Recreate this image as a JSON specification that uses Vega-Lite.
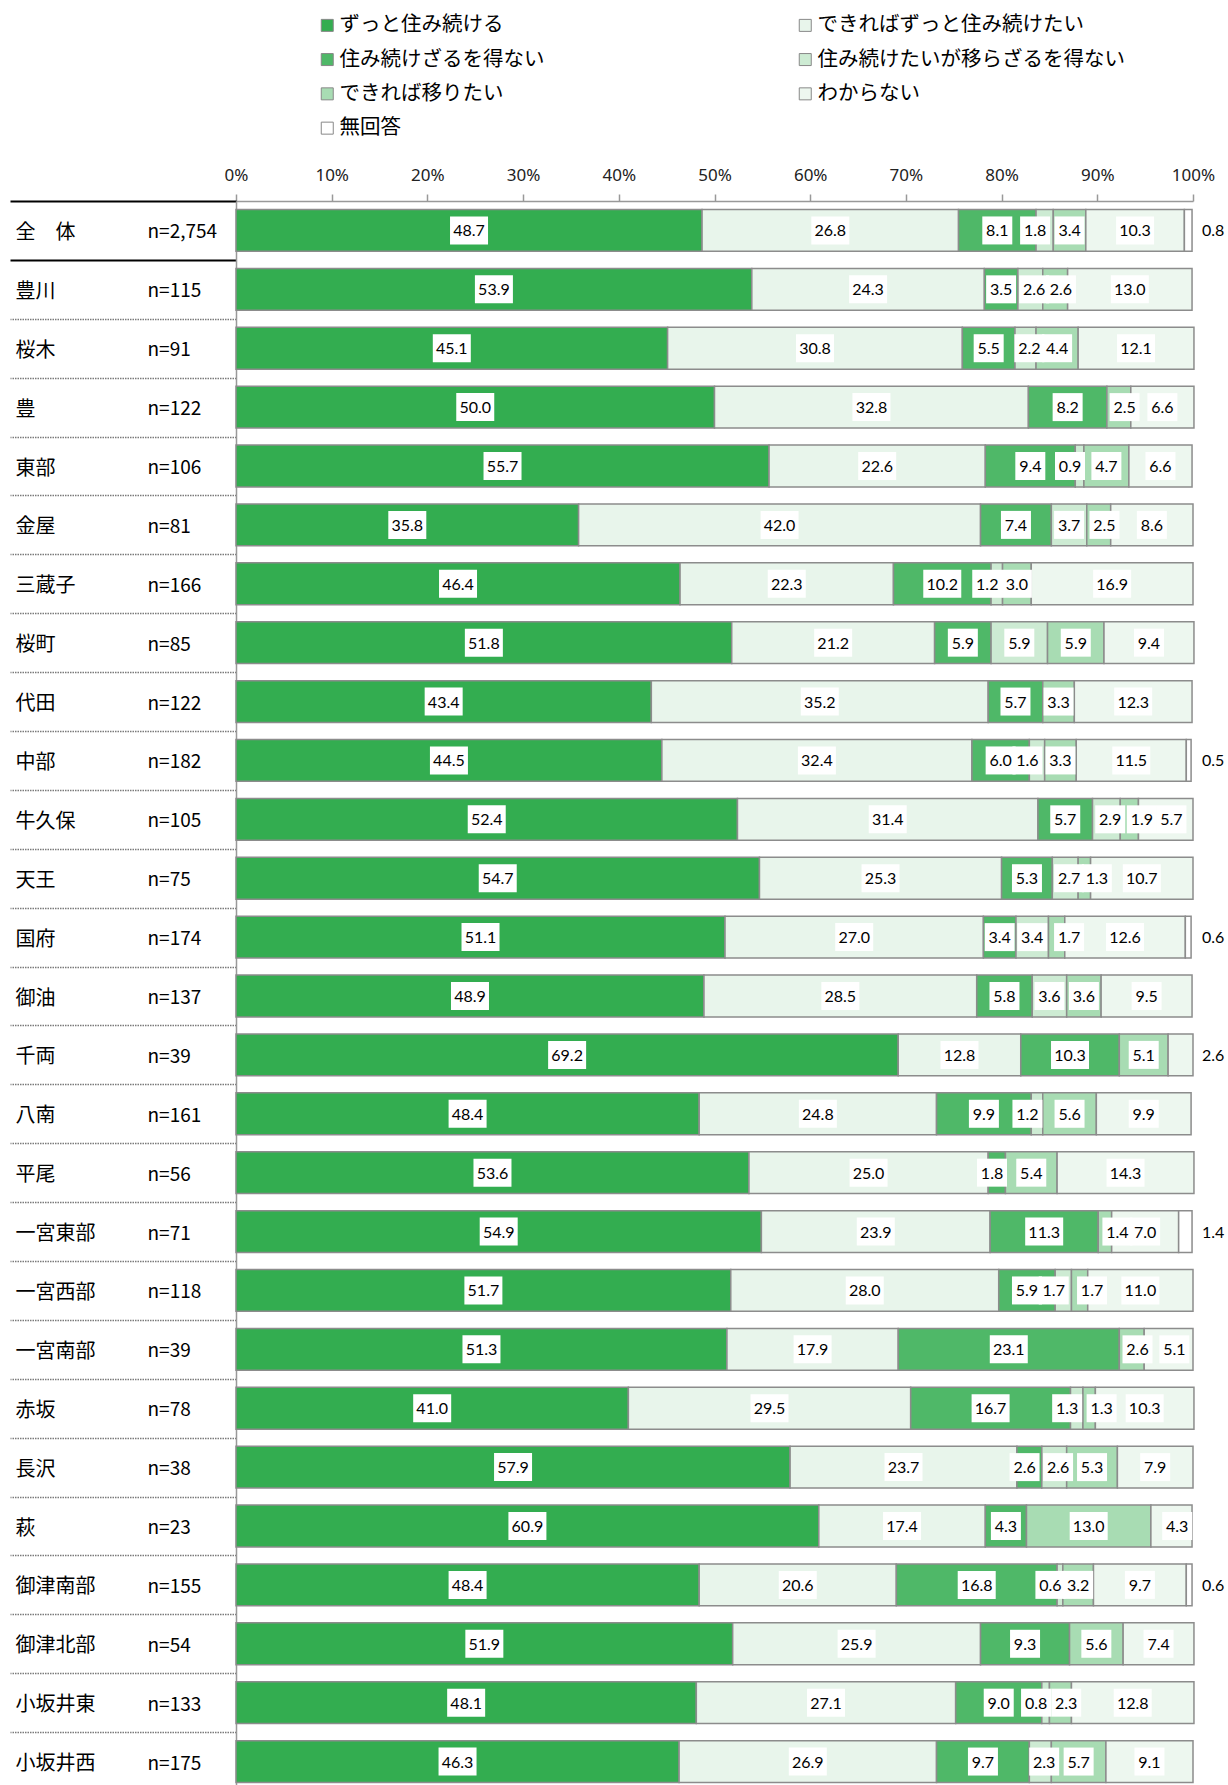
{
  "$schema": "https://vega.github.io/schema/vega-lite/v6.json",
  "width": 957,
  "height": 1590,
  "autosize": {"type": "none"},
  "padding": {"left": 236, "top": 201, "right": 35, "bottom": -6},
  "background": "white",
  "config": {"view": {"stroke": null}},
  "data": {"values": [
    {"area":"全　体","n":"n=2,754","cat":"ずっと住み続ける","value":48.7},
    {"area":"全　体","n":"n=2,754","cat":"できればずっと住み続けたい","value":26.8},
    {"area":"全　体","n":"n=2,754","cat":"住み続けざるを得ない","value":8.1},
    {"area":"全　体","n":"n=2,754","cat":"住み続けたいが移らざるを得ない","value":1.8},
    {"area":"全　体","n":"n=2,754","cat":"できれば移りたい","value":3.4},
    {"area":"全　体","n":"n=2,754","cat":"わからない","value":10.3},
    {"area":"全　体","n":"n=2,754","cat":"無回答","value":0.8},
    {"area":"豊川","n":"n=115","cat":"ずっと住み続ける","value":53.9},
    {"area":"豊川","n":"n=115","cat":"できればずっと住み続けたい","value":24.3},
    {"area":"豊川","n":"n=115","cat":"住み続けざるを得ない","value":3.5},
    {"area":"豊川","n":"n=115","cat":"住み続けたいが移らざるを得ない","value":2.6},
    {"area":"豊川","n":"n=115","cat":"できれば移りたい","value":2.6},
    {"area":"豊川","n":"n=115","cat":"わからない","value":13.0},
    {"area":"桜木","n":"n=91","cat":"ずっと住み続ける","value":45.1},
    {"area":"桜木","n":"n=91","cat":"できればずっと住み続けたい","value":30.8},
    {"area":"桜木","n":"n=91","cat":"住み続けざるを得ない","value":5.5},
    {"area":"桜木","n":"n=91","cat":"住み続けたいが移らざるを得ない","value":2.2},
    {"area":"桜木","n":"n=91","cat":"できれば移りたい","value":4.4},
    {"area":"桜木","n":"n=91","cat":"わからない","value":12.1},
    {"area":"豊","n":"n=122","cat":"ずっと住み続ける","value":50.0},
    {"area":"豊","n":"n=122","cat":"できればずっと住み続けたい","value":32.8},
    {"area":"豊","n":"n=122","cat":"住み続けざるを得ない","value":8.2},
    {"area":"豊","n":"n=122","cat":"できれば移りたい","value":2.5},
    {"area":"豊","n":"n=122","cat":"わからない","value":6.6},
    {"area":"東部","n":"n=106","cat":"ずっと住み続ける","value":55.7},
    {"area":"東部","n":"n=106","cat":"できればずっと住み続けたい","value":22.6},
    {"area":"東部","n":"n=106","cat":"住み続けざるを得ない","value":9.4},
    {"area":"東部","n":"n=106","cat":"住み続けたいが移らざるを得ない","value":0.9},
    {"area":"東部","n":"n=106","cat":"できれば移りたい","value":4.7},
    {"area":"東部","n":"n=106","cat":"わからない","value":6.6},
    {"area":"金屋","n":"n=81","cat":"ずっと住み続ける","value":35.8},
    {"area":"金屋","n":"n=81","cat":"できればずっと住み続けたい","value":42.0},
    {"area":"金屋","n":"n=81","cat":"住み続けざるを得ない","value":7.4},
    {"area":"金屋","n":"n=81","cat":"住み続けたいが移らざるを得ない","value":3.7},
    {"area":"金屋","n":"n=81","cat":"できれば移りたい","value":2.5},
    {"area":"金屋","n":"n=81","cat":"わからない","value":8.6},
    {"area":"三蔵子","n":"n=166","cat":"ずっと住み続ける","value":46.4},
    {"area":"三蔵子","n":"n=166","cat":"できればずっと住み続けたい","value":22.3},
    {"area":"三蔵子","n":"n=166","cat":"住み続けざるを得ない","value":10.2},
    {"area":"三蔵子","n":"n=166","cat":"住み続けたいが移らざるを得ない","value":1.2},
    {"area":"三蔵子","n":"n=166","cat":"できれば移りたい","value":3.0},
    {"area":"三蔵子","n":"n=166","cat":"わからない","value":16.9},
    {"area":"桜町","n":"n=85","cat":"ずっと住み続ける","value":51.8},
    {"area":"桜町","n":"n=85","cat":"できればずっと住み続けたい","value":21.2},
    {"area":"桜町","n":"n=85","cat":"住み続けざるを得ない","value":5.9},
    {"area":"桜町","n":"n=85","cat":"住み続けたいが移らざるを得ない","value":5.9},
    {"area":"桜町","n":"n=85","cat":"できれば移りたい","value":5.9},
    {"area":"桜町","n":"n=85","cat":"わからない","value":9.4},
    {"area":"代田","n":"n=122","cat":"ずっと住み続ける","value":43.4},
    {"area":"代田","n":"n=122","cat":"できればずっと住み続けたい","value":35.2},
    {"area":"代田","n":"n=122","cat":"住み続けざるを得ない","value":5.7},
    {"area":"代田","n":"n=122","cat":"できれば移りたい","value":3.3},
    {"area":"代田","n":"n=122","cat":"わからない","value":12.3},
    {"area":"中部","n":"n=182","cat":"ずっと住み続ける","value":44.5},
    {"area":"中部","n":"n=182","cat":"できればずっと住み続けたい","value":32.4},
    {"area":"中部","n":"n=182","cat":"住み続けざるを得ない","value":6.0},
    {"area":"中部","n":"n=182","cat":"住み続けたいが移らざるを得ない","value":1.6},
    {"area":"中部","n":"n=182","cat":"できれば移りたい","value":3.3},
    {"area":"中部","n":"n=182","cat":"わからない","value":11.5},
    {"area":"中部","n":"n=182","cat":"無回答","value":0.5},
    {"area":"牛久保","n":"n=105","cat":"ずっと住み続ける","value":52.4},
    {"area":"牛久保","n":"n=105","cat":"できればずっと住み続けたい","value":31.4},
    {"area":"牛久保","n":"n=105","cat":"住み続けざるを得ない","value":5.7},
    {"area":"牛久保","n":"n=105","cat":"住み続けたいが移らざるを得ない","value":2.9},
    {"area":"牛久保","n":"n=105","cat":"できれば移りたい","value":1.9},
    {"area":"牛久保","n":"n=105","cat":"わからない","value":5.7},
    {"area":"天王","n":"n=75","cat":"ずっと住み続ける","value":54.7},
    {"area":"天王","n":"n=75","cat":"できればずっと住み続けたい","value":25.3},
    {"area":"天王","n":"n=75","cat":"住み続けざるを得ない","value":5.3},
    {"area":"天王","n":"n=75","cat":"住み続けたいが移らざるを得ない","value":2.7},
    {"area":"天王","n":"n=75","cat":"できれば移りたい","value":1.3},
    {"area":"天王","n":"n=75","cat":"わからない","value":10.7},
    {"area":"国府","n":"n=174","cat":"ずっと住み続ける","value":51.1},
    {"area":"国府","n":"n=174","cat":"できればずっと住み続けたい","value":27.0},
    {"area":"国府","n":"n=174","cat":"住み続けざるを得ない","value":3.4},
    {"area":"国府","n":"n=174","cat":"住み続けたいが移らざるを得ない","value":3.4},
    {"area":"国府","n":"n=174","cat":"できれば移りたい","value":1.7},
    {"area":"国府","n":"n=174","cat":"わからない","value":12.6},
    {"area":"国府","n":"n=174","cat":"無回答","value":0.6},
    {"area":"御油","n":"n=137","cat":"ずっと住み続ける","value":48.9},
    {"area":"御油","n":"n=137","cat":"できればずっと住み続けたい","value":28.5},
    {"area":"御油","n":"n=137","cat":"住み続けざるを得ない","value":5.8},
    {"area":"御油","n":"n=137","cat":"住み続けたいが移らざるを得ない","value":3.6},
    {"area":"御油","n":"n=137","cat":"できれば移りたい","value":3.6},
    {"area":"御油","n":"n=137","cat":"わからない","value":9.5},
    {"area":"千両","n":"n=39","cat":"ずっと住み続ける","value":69.2},
    {"area":"千両","n":"n=39","cat":"できればずっと住み続けたい","value":12.8},
    {"area":"千両","n":"n=39","cat":"住み続けざるを得ない","value":10.3},
    {"area":"千両","n":"n=39","cat":"できれば移りたい","value":5.1},
    {"area":"千両","n":"n=39","cat":"わからない","value":2.6},
    {"area":"八南","n":"n=161","cat":"ずっと住み続ける","value":48.4},
    {"area":"八南","n":"n=161","cat":"できればずっと住み続けたい","value":24.8},
    {"area":"八南","n":"n=161","cat":"住み続けざるを得ない","value":9.9},
    {"area":"八南","n":"n=161","cat":"住み続けたいが移らざるを得ない","value":1.2},
    {"area":"八南","n":"n=161","cat":"できれば移りたい","value":5.6},
    {"area":"八南","n":"n=161","cat":"わからない","value":9.9},
    {"area":"平尾","n":"n=56","cat":"ずっと住み続ける","value":53.6},
    {"area":"平尾","n":"n=56","cat":"できればずっと住み続けたい","value":25.0},
    {"area":"平尾","n":"n=56","cat":"住み続けざるを得ない","value":1.8},
    {"area":"平尾","n":"n=56","cat":"できれば移りたい","value":5.4},
    {"area":"平尾","n":"n=56","cat":"わからない","value":14.3},
    {"area":"一宮東部","n":"n=71","cat":"ずっと住み続ける","value":54.9},
    {"area":"一宮東部","n":"n=71","cat":"できればずっと住み続けたい","value":23.9},
    {"area":"一宮東部","n":"n=71","cat":"住み続けざるを得ない","value":11.3},
    {"area":"一宮東部","n":"n=71","cat":"できれば移りたい","value":1.4},
    {"area":"一宮東部","n":"n=71","cat":"わからない","value":7.0},
    {"area":"一宮東部","n":"n=71","cat":"無回答","value":1.4},
    {"area":"一宮西部","n":"n=118","cat":"ずっと住み続ける","value":51.7},
    {"area":"一宮西部","n":"n=118","cat":"できればずっと住み続けたい","value":28.0},
    {"area":"一宮西部","n":"n=118","cat":"住み続けざるを得ない","value":5.9},
    {"area":"一宮西部","n":"n=118","cat":"住み続けたいが移らざるを得ない","value":1.7},
    {"area":"一宮西部","n":"n=118","cat":"できれば移りたい","value":1.7},
    {"area":"一宮西部","n":"n=118","cat":"わからない","value":11.0},
    {"area":"一宮南部","n":"n=39","cat":"ずっと住み続ける","value":51.3},
    {"area":"一宮南部","n":"n=39","cat":"できればずっと住み続けたい","value":17.9},
    {"area":"一宮南部","n":"n=39","cat":"住み続けざるを得ない","value":23.1},
    {"area":"一宮南部","n":"n=39","cat":"できれば移りたい","value":2.6},
    {"area":"一宮南部","n":"n=39","cat":"わからない","value":5.1},
    {"area":"赤坂","n":"n=78","cat":"ずっと住み続ける","value":41.0},
    {"area":"赤坂","n":"n=78","cat":"できればずっと住み続けたい","value":29.5},
    {"area":"赤坂","n":"n=78","cat":"住み続けざるを得ない","value":16.7},
    {"area":"赤坂","n":"n=78","cat":"住み続けたいが移らざるを得ない","value":1.3},
    {"area":"赤坂","n":"n=78","cat":"できれば移りたい","value":1.3},
    {"area":"赤坂","n":"n=78","cat":"わからない","value":10.3},
    {"area":"長沢","n":"n=38","cat":"ずっと住み続ける","value":57.9},
    {"area":"長沢","n":"n=38","cat":"できればずっと住み続けたい","value":23.7},
    {"area":"長沢","n":"n=38","cat":"住み続けざるを得ない","value":2.6},
    {"area":"長沢","n":"n=38","cat":"住み続けたいが移らざるを得ない","value":2.6},
    {"area":"長沢","n":"n=38","cat":"できれば移りたい","value":5.3},
    {"area":"長沢","n":"n=38","cat":"わからない","value":7.9},
    {"area":"萩","n":"n=23","cat":"ずっと住み続ける","value":60.9},
    {"area":"萩","n":"n=23","cat":"できればずっと住み続けたい","value":17.4},
    {"area":"萩","n":"n=23","cat":"住み続けざるを得ない","value":4.3},
    {"area":"萩","n":"n=23","cat":"できれば移りたい","value":13.0},
    {"area":"萩","n":"n=23","cat":"わからない","value":4.3},
    {"area":"御津南部","n":"n=155","cat":"ずっと住み続ける","value":48.4},
    {"area":"御津南部","n":"n=155","cat":"できればずっと住み続けたい","value":20.6},
    {"area":"御津南部","n":"n=155","cat":"住み続けざるを得ない","value":16.8},
    {"area":"御津南部","n":"n=155","cat":"住み続けたいが移らざるを得ない","value":0.6},
    {"area":"御津南部","n":"n=155","cat":"できれば移りたい","value":3.2},
    {"area":"御津南部","n":"n=155","cat":"わからない","value":9.7},
    {"area":"御津南部","n":"n=155","cat":"無回答","value":0.6},
    {"area":"御津北部","n":"n=54","cat":"ずっと住み続ける","value":51.9},
    {"area":"御津北部","n":"n=54","cat":"できればずっと住み続けたい","value":25.9},
    {"area":"御津北部","n":"n=54","cat":"住み続けざるを得ない","value":9.3},
    {"area":"御津北部","n":"n=54","cat":"できれば移りたい","value":5.6},
    {"area":"御津北部","n":"n=54","cat":"わからない","value":7.4},
    {"area":"小坂井東","n":"n=133","cat":"ずっと住み続ける","value":48.1},
    {"area":"小坂井東","n":"n=133","cat":"できればずっと住み続けたい","value":27.1},
    {"area":"小坂井東","n":"n=133","cat":"住み続けざるを得ない","value":9.0},
    {"area":"小坂井東","n":"n=133","cat":"住み続けたいが移らざるを得ない","value":0.8},
    {"area":"小坂井東","n":"n=133","cat":"できれば移りたい","value":2.3},
    {"area":"小坂井東","n":"n=133","cat":"わからない","value":12.8},
    {"area":"小坂井西","n":"n=175","cat":"ずっと住み続ける","value":46.3},
    {"area":"小坂井西","n":"n=175","cat":"できればずっと住み続けたい","value":26.9},
    {"area":"小坂井西","n":"n=175","cat":"住み続けざるを得ない","value":9.7},
    {"area":"小坂井西","n":"n=175","cat":"住み続けたいが移らざるを得ない","value":2.3},
    {"area":"小坂井西","n":"n=175","cat":"できれば移りたい","value":5.7},
    {"area":"小坂井西","n":"n=175","cat":"わからない","value":9.1}
  ]},
  "transform": [
    {"calculate": "datum.area + '|' + datum.n", "as": "key"},
    {"stack": "value", "groupby": ["key"], "as": ["v0", "v1"]},
    {"calculate": "(datum.v0 + datum.v1) / 2 + (datum.cat === '住み続けたいが移らざるを得ない' ? (datum.value < 2 ? -1.0 : (datum.value < 3 ? 0.4 : 0)) : (datum.cat === 'できれば移りたい' ? (datum.value < 2 ? 1.3 : (datum.value < 3 ? 0.6 : 0)) : (datum.cat === '住み続けざるを得ない' && datum.value < 3 ? -0.5 : (datum.cat === 'わからない' && datum.value < 6 ? 0.6 : 0))))", "as": "lx"}
  ],
  "resolve": {"axis": {"x": "independent", "y": "independent"}},
  "layer": [
    {
      "mark": {"type": "bar", "height": {"band": 0.71}, "stroke": "#8c8c8c", "strokeWidth": 1.5},
      "encoding": {
        "y": {
          "field": "key", "type": "nominal", "sort": null,
          "scale": {"paddingInner": 0, "paddingOuter": 0},
          "axis": {
            "orient": "left", "title": null, "grid": false,
            "domain": true, "domainColor": "#999999", "domainWidth": 1.5,
            "ticks": true, "tickBand": "extent", "tickSize": 226,
            "tickColor": {"condition": {"test": "datum.extra || datum.value === '全　体|n=2,754'", "value": "#000000"}, "value": "#7a7a7a"},
            "tickWidth": {"condition": {"test": "datum.extra || datum.value === '全　体|n=2,754'", "value": 2}, "value": 1.5},
            "tickDash": {"condition": {"test": "datum.extra || datum.value === '全　体|n=2,754'", "value": []}, "value": [1.5, 1]},
            "labelExpr": "isValid(datum.value) ? split(datum.value, '|')[0] : ''",
            "labelAlign": "left", "labelBaseline": "middle", "labelPadding": -5, "labelOffset": 2,
            "labelFont": "Noto Sans CJK JP", "labelFontSize": 20, "labelColor": "#000000", "labelLimit": 200
          }
        },
        "x": {
          "field": "v0", "type": "quantitative",
          "scale": {"domain": [0, 100], "nice": false},
          "axis": {
            "orient": "top", "title": null, "grid": false,
            "values": [0, 10, 20, 30, 40, 50, 60, 70, 80, 90, 100],
            "labelExpr": "datum.value + '%'",
            "domainColor": "#999999", "domainWidth": 1.5,
            "tickColor": "#999999", "tickWidth": 1.5, "tickSize": 7,
            "labelFont": "Noto Sans", "labelFontSize": 17, "labelColor": "#222222",
            "labelPadding": 10, "labelFlush": false, "labelOverlap": false
          }
        },
        "x2": {"field": "v1"},
        "color": {
          "field": "cat", "type": "nominal",
          "scale": {
            "domain": ["ずっと住み続ける", "住み続けざるを得ない", "できれば移りたい", "無回答", "できればずっと住み続けたい", "住み続けたいが移らざるを得ない", "わからない"],
            "range": ["#33ad50", "#4fb868", "#a8dcb3", "#ffffff", "#e8f5eb", "#cdebd3", "#edf7ef"]
          },
          "legend": {
            "title": null, "orient": "none", "legendX": 81, "legendY": -186,
            "columns": 2, "columnPadding": 250, "rowPadding": 13.3,
            "symbolType": "square", "symbolSize": 144,
            "symbolStrokeColor": "#888888", "symbolStrokeWidth": 1,
            "labelFont": "Noto Sans CJK JP", "labelFontSize": 20.5, "labelLimit": 400,
            "labelOffset": 2, "labelColor": "#000000", "padding": 0
          }
        }
      }
    },
    {
      "mark": {"type": "point", "filled": true, "color": "#ffffff", "strokeWidth": 0},
      "encoding": {
        "y": {"field": "key", "type": "nominal", "sort": null, "axis": null},
        "x": {"field": "lx", "type": "quantitative", "axis": null},
        "shape": {"condition": {"test": "datum.value >= 10", "value": "M-1,-0.737H1V0.737H-1Z"}, "value": "M-1,-0.933H1V0.933H-1Z"},
        "size": {"condition": {"test": "datum.value >= 10", "value": 1444}, "value": 900},
        "opacity": {"condition": {"test": "datum.cat === '無回答' || (datum.cat === 'わからない' && datum.value < 3)", "value": 0}, "value": 1}
      }
    },
    {
      "mark": {"type": "text", "font": "Lato", "fontSize": 16, "color": "#000000", "baseline": "middle", "dy": 1},
      "encoding": {
        "y": {"field": "key", "type": "nominal", "sort": null, "axis": null},
        "x": {"field": "lx", "type": "quantitative", "axis": null},
        "text": {
          "condition": {"test": "datum.cat === '無回答' || (datum.cat === 'わからない' && datum.value < 3)", "value": ""},
          "field": "value", "type": "quantitative", "format": ".1f"
        }
      }
    },
    {
      "mark": {"type": "text", "font": "Lato", "fontSize": 16, "color": "#000000", "baseline": "middle", "align": "left", "dx": 9, "dy": 1},
      "encoding": {
        "y": {
          "field": "key", "type": "nominal", "sort": null,
          "axis": {
            "orient": "left", "title": null, "grid": false, "domain": false, "ticks": false,
            "labelExpr": "split(datum.value, '|')[1]",
            "labelAlign": "left", "labelBaseline": "middle", "labelPadding": 89, "labelOffset": 2,
            "labelFont": "Noto Sans CJK JP", "labelFontSize": 19, "labelColor": "#000000", "labelLimit": 200
          }
        },
        "x": {"datum": 100, "type": "quantitative", "axis": null},
        "text": {
          "condition": {"test": "!(datum.cat === '無回答' || (datum.cat === 'わからない' && datum.value < 3))", "value": ""},
          "field": "value", "type": "quantitative", "format": ".1f"
        }
      }
    }
  ]
}
